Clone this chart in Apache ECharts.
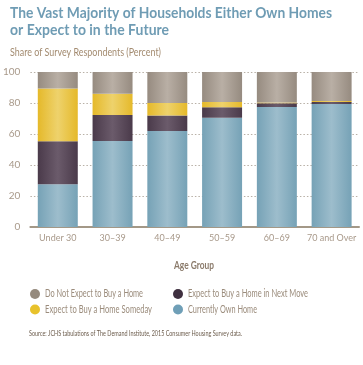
<!DOCTYPE html>
<html><head><meta charset="utf-8">
<script src="https://cdn.jsdelivr.net/npm/echarts@6/dist/echarts.min.js"></script>
<style>html,body{margin:0;padding:0;background:#fff}#c{width:363px;height:365px}</style>
</head><body><div id="c"></div>
<script>
const categories = ['Under 30', '30\u201339', '40\u201349', '50\u201359', '60\u201369', '70 and Over'];
const currentlyOwn = [27.6, 55.5, 62, 70.5, 77.4, 79.3];
const nextMove = [27.8, 16.8, 10, 6.7, 2.4, 1.3];
const someday = [34, 13.6, 8, 3.4, 0.6, 0.7];
const notExpect = [10.6, 14.1, 20, 19.4, 19.6, 18.7];
const seriesNames = ['Currently Own Home', 'Expect to Buy a Home in Next Move', 'Expect to Buy a Home Someday', 'Do Not Expect to Buy a Home'];
const yTicks = [0, 20, 40, 60, 80, 100];

const FF = 'Lato, "Liberation Sans", sans-serif';
const mctx = document.createElement('canvas').getContext('2d');
function condText(text, x, y, size, weight, color, targetW) {
  const font = weight + ' ' + size + 'px ' + FF;
  mctx.font = font;
  const w = mctx.measureText(text).width;
  return {type: 'text', x, y, scaleX: targetW / w, scaleY: 1,
    style: {text, font, fill: color, textAlign: 'left', textVerticalAlign: 'middle'}, silent: true};
}
function grad(edge, mid) {
  return new echarts.graphic.LinearGradient(0, 0, 1, 0, [
    {offset: 0, color: edge}, {offset: 0.5, color: mid}, {offset: 1, color: edge}
  ]);
}
const legendColors = {};
legendColors[seriesNames[3]] = '#958a7d';
legendColors[seriesNames[2]] = '#e8c22c';
legendColors[seriesNames[1]] = '#3f3040';
legendColors[seriesNames[0]] = '#6f9fb7';
const legendLayout = [
  [seriesNames[3], 35, 294, 98], [seriesNames[2], 35, 309.5, 107],
  [seriesNames[1], 178, 294, 120], [seriesNames[0], 178, 309.5, 69]
];
const graphics = [
  condText('The Vast Majority of Households Either Own Homes', 10, 13.5, 15, 'bold', '#6f9cb4', 322),
  condText('or Expect to in the Future', 10, 30.2, 15, 'bold', '#6f9cb4', 159),
  condText('Share of Survey Respondents (Percent)', 10, 52, 11, 'normal', '#a38b70', 151),
  condText('Age Group', 174, 266, 10.5, 'bold', '#8b7b6b', 40),
  condText('Source: JCHS tabulations of The Demand Institute, 2015 Consumer Housing Survey data.', 29, 333.5, 7, 'normal', '#6a5a4a', 213)
];
legendLayout.forEach(([name, cx, cy, tw]) => {
  graphics.push({type: 'circle', shape: {cx, cy, r: 5}, style: {fill: legendColors[name]}, silent: true});
  graphics.push(condText(name, cx + 10, cy, 10.5, 'normal', '#9b8c7c', tw));
});

const chart = echarts.init(document.getElementById('c'), null, {renderer: 'canvas'});
const mk = (name, data, edge, mid) => ({
  name, type: 'bar', stack: 'a', data, barCategoryGap: '27%',
  itemStyle: {color: grad(edge, mid)}, emphasis: {disabled: true}
});
chart.setOption({
  animation: false,
  graphic: graphics,
  grid: {left: 30, right: 4, top: 72, bottom: 138},
  xAxis: {type: 'category', data: categories,
    axisLine: {lineStyle: {color: '#a39887', width: 2}}, axisTick: {show: false},
    axisLabel: {interval: 0, fontFamily: FF, fontSize: 9, color: '#a8998a', margin: 7}},
  yAxis: {type: 'value', min: 0, max: 100, interval: 20,
    axisLine: {show: false}, axisTick: {show: false},
    axisLabel: {fontFamily: FF, fontSize: 10, color: '#a8998a', margin: 10,
      formatter: v => yTicks.includes(v) ? String(v) : ''},
    splitLine: {lineStyle: {color: '#b8b0a6', type: [1.5, 2], width: 1}}},
  series: [
    mk(seriesNames[0], currentlyOwn, '#76a2b6', '#9dbdcc'),
    mk(seriesNames[1], nextMove, '#4a3a4a', '#6b5b6b'),
    mk(seriesNames[2], someday, '#e5b92a', '#eed26c'),
    mk(seriesNames[3], notExpect, '#968b80', '#b9afa5')
  ]
});
</script></body></html>
